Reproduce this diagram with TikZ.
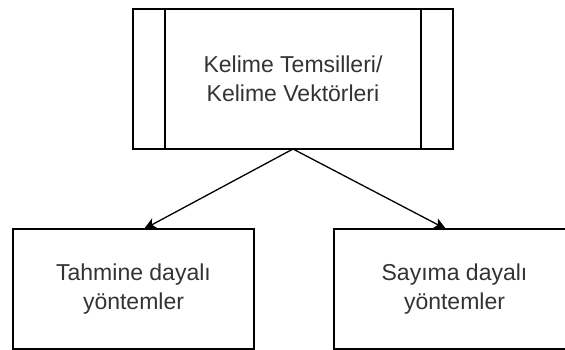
\documentclass[tikz,border=0pt]{standalone}
\usepackage{fontspec}
\setmainfont{Liberation Sans}
\usetikzlibrary{arrows.meta}
\definecolor{labelgray}{HTML}{333333}
\begin{document}
\begin{tikzpicture}[x=1pt,y=-1pt,
  box/.style={draw=black, line width=1.3pt, fill=white, inner sep=0pt, outer sep=0pt,
    align=center, text=labelgray, font=\fontsize{23}{29}\selectfont},
  link/.style={draw=black, line width=1.3pt, -{Stealth[length=12pt,width=11pt,inset=3pt]}}]
  \clip (0,0) rectangle (565,350);
  \fill[white] (0,0) rectangle (565,350);

  % parent concept (predefined-process box)
  \node[box, minimum width=320pt, minimum height=140pt] (top) at (293,79)
    {Kelime Temsilleri/\\Kelime Vektörleri};
  \draw[line width=1.3pt] ([xshift=32pt]top.north west) -- ([xshift=32pt]top.south west);
  \draw[line width=1.3pt] ([xshift=-32pt]top.north east) -- ([xshift=-32pt]top.south east);

  % the two families of methods
  \node[box, minimum width=241pt, minimum height=120pt] (pred) at (133.5,289)
    {Tahmine dayalı\\yöntemler};
  \node[box, minimum width=241pt, minimum height=120pt] (count) at (454.5,289)
    {Sayıma dayalı\\yöntemler};

  \draw[link] (top.south) -- ([xshift=10.5pt]pred.north);
  \draw[link] (top.south) -- ([xshift=-8.5pt]count.north);
\end{tikzpicture}
\end{document}
